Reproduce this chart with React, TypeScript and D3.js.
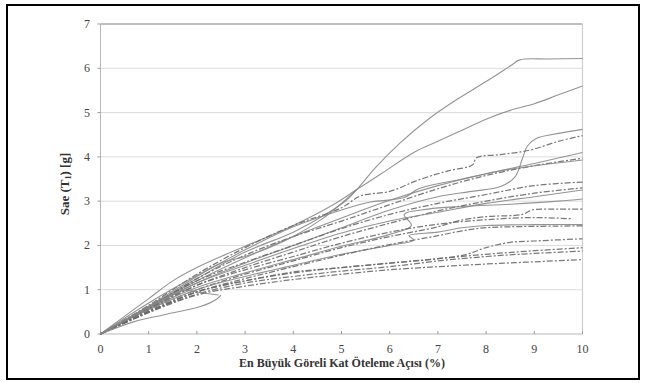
import React from "react";
import * as d3 from "d3";

type Pt = [number, number];

const xTicks = [0, 1, 2, 3, 4, 5, 6, 7, 8, 9, 10];
const yTicks = [0, 1, 2, 3, 4, 5, 6, 7];
const xTitle = "En Büyük Göreli Kat Öteleme Açısı (%)";

// IDA curves: [drift %, Sae g]
const gm01: Pt[] = [[0,0],[1,0.62],[2,1.25],[3,1.85],[4,2.3],[4.7,2.72],[5.1,3.02],[5.35,3.3],[5.7,3.75],[6.2,4.3],[6.8,4.85],[7.4,5.3],[8,5.7],[8.5,6.05],[8.7,6.19],[9.3,6.21],[10,6.22]];
const gm02: Pt[] = [[0,0],[1,0.8],[1.5,1.2],[2,1.5],[2.5,1.75],[3,1.98],[4,2.45],[4.8,2.9],[5.3,3.25],[5.8,3.6],[6.5,4.1],[7,4.35],[7.5,4.6],[8,4.85],[8.5,5.05],[9,5.2],[9.5,5.4],[10,5.6]];
const gm03: Pt[] = [[0,0],[1,0.58],[2,1.15],[3,1.6],[4,2.0],[5,2.4],[6,2.8],[7,3.1],[7.7,3.22],[8.3,3.33],[8.6,3.55],[8.75,3.95],[8.86,4.25],[9.05,4.42],[9.5,4.53],[10,4.62]];
const gm04: Pt[] = [[0,0],[1,0.65],[2,1.35],[3,1.95],[4,2.45],[5,2.85],[5.4,3.12],[6,3.22],[6.6,3.48],[7.2,3.68],[7.72,3.82],[7.8,3.98],[8.3,4.05],[8.9,4.15],[9.5,4.35],[10,4.48]];
const gm05: Pt[] = [[0,0],[1,0.62],[2,1.2],[3,1.72],[4,2.2],[5,2.62],[6,3.02],[7,3.35],[8,3.62],[9,3.85],[10,4.1]];
const gm06: Pt[] = [[0,0],[1,0.6],[2,1.25],[3,1.78],[4,2.2],[5,2.55],[6,2.92],[7,3.28],[8,3.58],[9,3.8],[10,3.97]];
const gm07: Pt[] = [[0,0],[1,0.63],[2,1.3],[3,1.9],[4,2.42],[5,2.8],[5.6,2.98],[6.3,3.08],[6.6,3.28],[7.5,3.5],[8.5,3.72],[10,3.93]];
const gm08: Pt[] = [[0,0],[1,0.6],[2,1.2],[3,1.62],[4,2.0],[5,2.38],[6,2.7],[7,2.95],[8,3.15],[9,3.35],[10,3.43]];
const gm09: Pt[] = [[0,0],[1,0.55],[2,1.1],[3,1.5],[4,1.85],[5,2.2],[6,2.5],[7,2.78],[8,3.0],[9,3.18],[10,3.3]];
const gm10: Pt[] = [[0,0],[1,0.6],[2,1.15],[3,1.55],[4,1.93],[5,2.28],[6,2.55],[7,2.75],[8,2.95],[9,3.1],[10,3.25]];
const gm11: Pt[] = [[0,0],[1,0.57],[2,1.05],[3,1.38],[4,1.68],[5,1.98],[6,2.25],[6.45,2.45],[6.3,2.7],[6.8,2.82],[7.5,2.88],[8.5,2.93],[9.5,3.0],[10,3.05]];
const gm12: Pt[] = [[0,0],[1,0.55],[2,1.0],[3,1.35],[4,1.65],[5,1.95],[6,2.2],[7,2.42],[7.4,2.55],[8,2.65],[8.75,2.7],[8.95,2.8],[9.5,2.82],[10,2.82]];
const gm13: Pt[] = [[0,0],[1,0.58],[2,1.1],[3,1.45],[4,1.75],[5,2.05],[6,2.3],[7,2.48],[8,2.58],[9,2.63],[9.8,2.6]];
const gm14: Pt[] = [[0,0],[1,0.55],[2,1.0],[3,1.3],[4,1.55],[5,1.8],[6,2.0],[6.5,2.12],[6.4,2.22],[7,2.3],[7.5,2.4],[8,2.45],[9,2.47],[10,2.47]];
const gm15: Pt[] = [[0,0],[1,0.5],[2,0.95],[3,1.25],[4,1.52],[5,1.78],[6,2.02],[7,2.22],[7.5,2.33],[8,2.4],[10,2.44]];
const gm16: Pt[] = [[0,0],[1,0.5],[2,0.95],[3,1.2],[4,1.4],[5,1.5],[6,1.6],[7,1.7],[7.6,1.8],[8,1.95],[8.5,2.07],[9,2.1],[10,2.15]];
const gm17: Pt[] = [[0,0],[1,0.52],[2,0.95],[3,1.2],[4,1.38],[5,1.5],[6,1.6],[7,1.7],[8,1.8],[9,1.88],[10,1.95]];
const gm18: Pt[] = [[0,0],[1,0.5],[2,0.9],[3,1.15],[4,1.3],[5,1.42],[6,1.52],[7,1.65],[8,1.75],[9,1.82],[10,1.87]];
const gm19: Pt[] = [[0,0],[1,0.48],[2,0.88],[3,1.08],[4,1.23],[5,1.35],[6,1.45],[7,1.52],[8,1.58],[9,1.63],[10,1.68]];
const gm20: Pt[] = [[0,0],[0.7,0.28],[1.3,0.43],[2.07,0.62],[2.4,0.78],[2.5,0.88]];
const gm21: Pt[] = [[0,0],[1,0.6],[1.7,0.98],[2.1,0.93],[2.45,0.88]];
const gm22: Pt[] = [[0,0],[1,0.7],[1.8,1.2],[2.5,1.6],[3,1.75],[3.5,1.95],[4,2.2],[4.6,2.6],[5,2.95],[5.3,3.25]];

const curves: { pts: Pt[]; dashed: boolean }[] = [
  { pts: gm01, dashed: false }, { pts: gm02, dashed: false }, { pts: gm03, dashed: false },
  { pts: gm04, dashed: true }, { pts: gm05, dashed: false }, { pts: gm06, dashed: true },
  { pts: gm07, dashed: false }, { pts: gm08, dashed: true }, { pts: gm09, dashed: true },
  { pts: gm10, dashed: false }, { pts: gm11, dashed: false }, { pts: gm12, dashed: true },
  { pts: gm13, dashed: true }, { pts: gm14, dashed: false }, { pts: gm15, dashed: true },
  { pts: gm16, dashed: true }, { pts: gm17, dashed: true }, { pts: gm18, dashed: true },
  { pts: gm19, dashed: true }, { pts: gm20, dashed: false }, { pts: gm21, dashed: false },
  { pts: gm22, dashed: false },
];

export default function App() {
  const W = 646, H = 383;
  const x = d3.scaleLinear().domain([0, 10]).range([100.5, 582.5]);
  const y = d3.scaleLinear().domain([0, 7]).range([334, 24]);
  const line = d3.line<Pt>().x(d => x(d[0])).y(d => y(d[1])).curve(d3.curveCatmullRom.alpha(0.5));
  const serif = "Times New Roman, Liberation Serif, Noto Serif, DejaVu Serif, serif";
  return (
    <svg width={W} height={H} style={{ position: "absolute", left: 0, top: 0, background: "#fff" }}>
      <rect x={7} y={5} width={632} height={374} fill="#fff" stroke="#000" strokeWidth={2} />
      {yTicks.slice(1, -1).map(t => (
        <line key={t} x1={x(0)} x2={x(10)} y1={y(t)} y2={y(t)} stroke="#dcdcdc" strokeWidth={1} />
      ))}
      <line x1={x(0)} x2={x(10)} y1={y(7)} y2={y(7)} stroke="#a8a8a8" strokeWidth={1.5} />
      <line x1={x(10)} x2={x(10)} y1={y(7)} y2={y(0)} stroke="#cfcfcf" strokeWidth={1.2} />
      <line x1={x(0)} x2={x(0)} y1={y(7)} y2={y(0)} stroke="#b8b8b8" strokeWidth={1} />
      <line x1={x(0)} x2={x(10)} y1={y(0)} y2={y(0)} stroke="#b8b8b8" strokeWidth={1} />
      {xTicks.map(t => (
        <line key={t} x1={x(t)} x2={x(t)} y1={y(0) - 3} y2={y(0)} stroke="#999" strokeWidth={1} />
      ))}
      {yTicks.map(t => (
        <line key={t} x1={x(0) - 3} x2={x(0)} y1={y(t)} y2={y(t)} stroke="#999" strokeWidth={1} />
      ))}
      {curves.map((c, i) => (
        <path key={i} d={line(c.pts) || ""} fill="none" stroke={c.dashed ? "#6a6a6a" : "#888"}
          strokeWidth={c.dashed ? 1.25 : 1.1} strokeDasharray={c.dashed ? "6,2,2,2" : undefined} strokeOpacity={0.9} />
      ))}
      {xTicks.map(t => (
        <text key={t} x={x(t)} y={353} textAnchor="middle" fontFamily={serif} fontSize={12} fill="#444">{t}</text>
      ))}
      {yTicks.map(t => (
        <text key={t} x={90} y={y(t) + 4} textAnchor="end" fontFamily={serif} fontSize={12} fill="#444">{t}</text>
      ))}
      <text x={342} y={367} textAnchor="middle" fontFamily={serif} fontSize={12} fontWeight="bold" fill="#333">{xTitle}</text>
      <text transform={`translate(69,184) rotate(-90)`} textAnchor="middle" fontFamily={serif} fontSize={13} fontWeight="bold" fill="#333">
        Sae (T<tspan fontSize={8} dy={2}>1</tspan><tspan dy={-2}>) [g]</tspan>
      </text>
    </svg>
  );
}
